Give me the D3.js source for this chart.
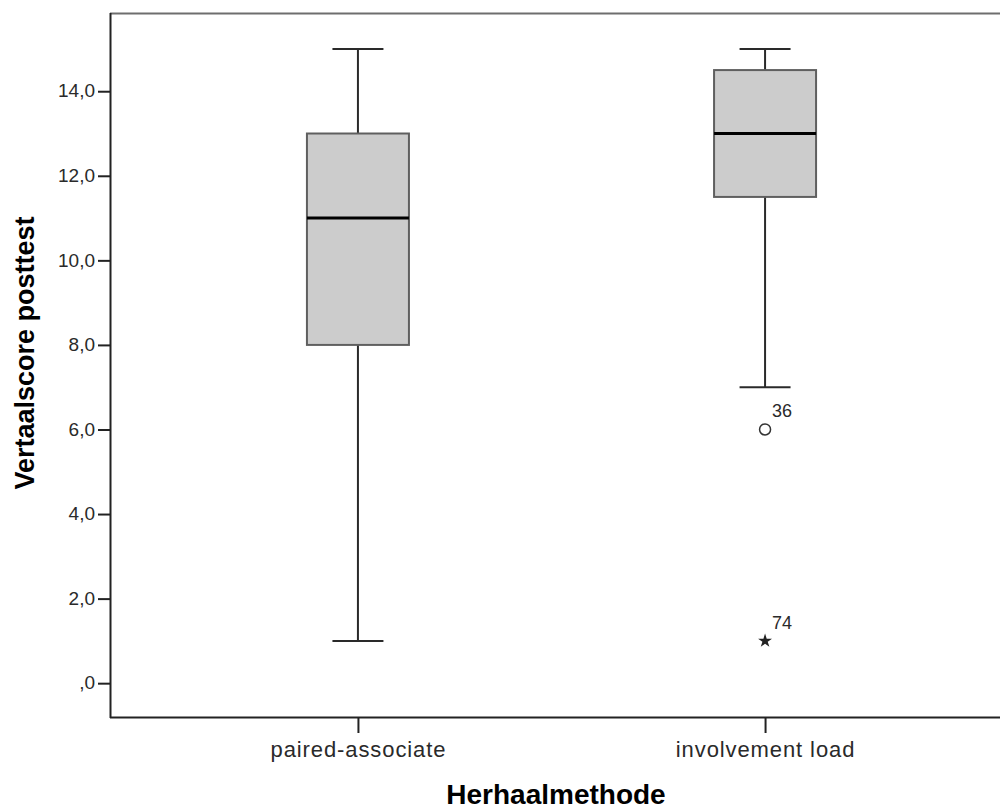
<!DOCTYPE html>
<html>
<head>
<meta charset="utf-8">
<script src="https://cdn.jsdelivr.net/npm/d3@7"></script>
<style>
  body { margin: 0; background: #fff; }
  text { font-family: "Liberation Sans", Arial, sans-serif; }
</style>
</head>
<body>
<svg id="chart" width="1000" height="809"></svg>
<script>
const categories = ["paired-associate", "involvement load"];
const mins    = [1, 7];
const q1s     = [8, 11.5];
const medians = [11, 13];
const q3s     = [13, 14.5];
const maxs    = [15, 15];
const outlierCategory = ["involvement load", "involvement load"];
const outlierValues   = [6, 1];
const outlierLabels   = ["36", "74"];
const outlierKinds    = ["circle", "star"];
const yTicks = [0, 2, 4, 6, 8, 10, 12, 14];
const yTitle = "Vertaalscore posttest";
const xTitle = "Herhaalmethode";

const svg = d3.select("#chart");
const pLeft = 110, pRight = 1013, pTop = 13, pBottom = 717;

const y = d3.scaleLinear().domain([-0.8, 15.85]).range([pBottom, pTop]);
const x = d3.scalePoint().domain(categories).range([pLeft, pRight]).padding(0.609);

const fmt = d => d === 0 ? ",0" : d3.format(".1f")(d).replace(".", ",");

// frame
svg.append("line").attr("x1", pLeft).attr("x2", 1000).attr("y1", pTop + 0.5).attr("y2", pTop + 0.5)
  .attr("stroke", "#6e6e6e").attr("stroke-width", 2);
svg.append("line").attr("x1", pLeft).attr("x2", 1000).attr("y1", pBottom + 0.5).attr("y2", pBottom + 0.5)
  .attr("stroke", "#222").attr("stroke-width", 2);
svg.append("line").attr("x1", pLeft + 0.5).attr("x2", pLeft + 0.5).attr("y1", pTop).attr("y2", pBottom + 1)
  .attr("stroke", "#222").attr("stroke-width", 2);

// y axis
const yAxis = svg.append("g").attr("transform", `translate(${pLeft},0)`)
  .call(d3.axisLeft(y).tickValues(yTicks).tickFormat(fmt).tickSize(12).tickPadding(3));
yAxis.select(".domain").remove();
yAxis.selectAll(".tick line").attr("stroke", "#222").attr("stroke-width", 2);
yAxis.selectAll(".tick text").attr("fill", "#2a2a2a").style("font-size", "19px")
  .attr("dy", "0.3em").attr("font-family", "Liberation Sans, Arial, sans-serif");

// x axis
const xAxis = svg.append("g").attr("transform", `translate(0,${pBottom})`)
  .call(d3.axisBottom(x).tickSize(16).tickPadding(8));
xAxis.select(".domain").remove();
xAxis.selectAll(".tick line").attr("stroke", "#222").attr("stroke-width", 2);
xAxis.selectAll(".tick text").attr("fill", "#2a2a2a").style("font-size", "22px")
  .style("letter-spacing", "0.9px").attr("font-family", "Liberation Sans, Arial, sans-serif");

// boxes
const boxW = 102, capW = 51;
const data = categories.map((c, i) => ({c, min: mins[i], q1: q1s[i], med: medians[i], q3: q3s[i], max: maxs[i]}));
const g = svg.append("g");
data.forEach(d => {
  const cx = x(d.c);
  g.append("line").attr("x1", cx).attr("x2", cx).attr("y1", y(d.q3)).attr("y2", y(d.max))
    .attr("stroke", "#2a2a2a").attr("stroke-width", 2);
  g.append("line").attr("x1", cx).attr("x2", cx).attr("y1", y(d.q1)).attr("y2", y(d.min))
    .attr("stroke", "#2a2a2a").attr("stroke-width", 2);
  g.append("line").attr("x1", cx - capW / 2).attr("x2", cx + capW / 2).attr("y1", y(d.max)).attr("y2", y(d.max))
    .attr("stroke", "#2a2a2a").attr("stroke-width", 2);
  g.append("line").attr("x1", cx - capW / 2).attr("x2", cx + capW / 2).attr("y1", y(d.min)).attr("y2", y(d.min))
    .attr("stroke", "#2a2a2a").attr("stroke-width", 2);
  g.append("rect").attr("x", cx - boxW / 2).attr("width", boxW)
    .attr("y", y(d.q3)).attr("height", y(d.q1) - y(d.q3))
    .attr("fill", "#cccccc").attr("stroke", "#5f5f5f").attr("stroke-width", 2);
  g.append("line").attr("x1", cx - boxW / 2).attr("x2", cx + boxW / 2).attr("y1", y(d.med)).attr("y2", y(d.med))
    .attr("stroke", "#000").attr("stroke-width", 3);
});

// outliers
outlierValues.forEach((v, i) => {
  const cx = x(outlierCategory[i]), cy = y(v);
  if (outlierKinds[i] === "circle") {
    g.append("circle").attr("cx", cx).attr("cy", cy).attr("r", 5.5)
      .attr("fill", "none").attr("stroke", "#333").attr("stroke-width", 1.5);
  } else {
    g.append("path").attr("d", d3.symbol().type(d3.symbolStar).size(60)())
      .attr("transform", `translate(${cx},${cy})`).attr("fill", "#222");
  }
  g.append("text").attr("x", cx + 7).attr("y", cy - 12).text(outlierLabels[i])
    .attr("fill", "#2a2a2a").style("font-size", "18px");
});

// titles
svg.append("text").attr("transform", `translate(34,353) rotate(-90)`)
  .attr("text-anchor", "middle").style("font-size", "27px").style("font-weight", "bold")
  .attr("fill", "#000").text(yTitle);
svg.append("text").attr("x", 556).attr("y", 804).attr("text-anchor", "middle")
  .style("font-size", "28px").style("font-weight", "bold").attr("fill", "#000").text(xTitle);
</script>
</body>
</html>
